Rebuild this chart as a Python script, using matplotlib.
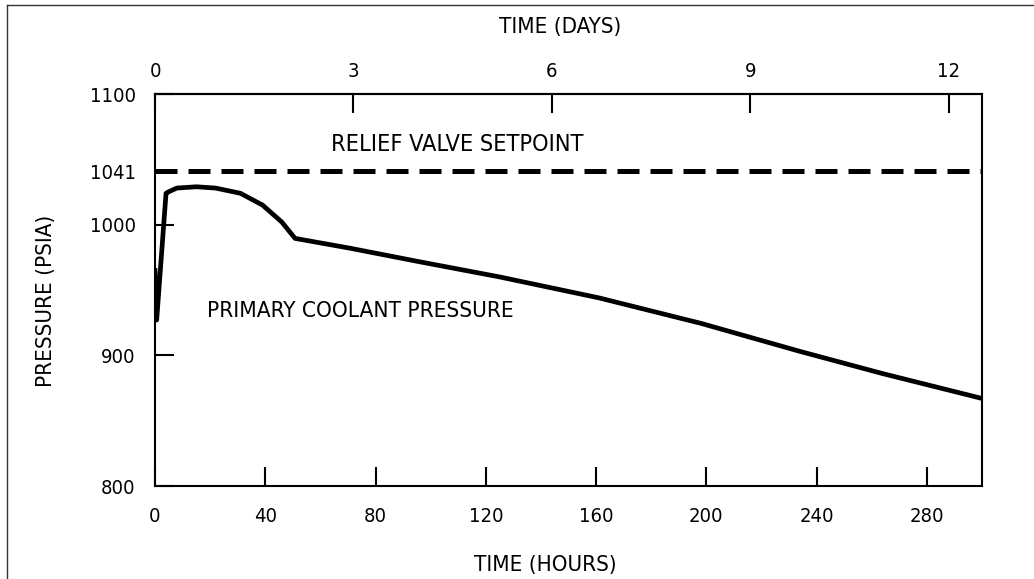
import matplotlib
matplotlib.use("Agg")
import matplotlib.pyplot as plt
from matplotlib.lines import Line2D

plt.rcParams['font.family'] = ['DejaVu Sans']
plt.rcParams['font.stretch'] = 'condensed'

# data
hours = [0, 0.6, 4, 4.8, 7.9, 15, 22, 31, 39, 46, 50.8, 70.7, 95, 125, 161, 198, 234, 264, 300]
pressure = [965, 927, 1024, 1025, 1028, 1029, 1028, 1024, 1015, 1002, 989.5, 982, 972, 960, 944, 924.5, 903, 886, 867]
relief_setpoint = 1041

hour_ticks = [0, 40, 80, 120, 160, 200, 240, 280]
day_ticks = [0, 3, 6, 9, 12]
psia_ticks = [800, 900, 1000, 1041, 1100]

fig = plt.figure(figsize=(10.34, 5.79), dpi=100)
ax = fig.add_axes([155/1034, 93/579, 827/1034, 392/579])

ax.plot(hours, pressure, color='black', lw=3.4, solid_joinstyle='round')
ax.axhline(relief_setpoint, color='black', lw=3.6, dashes=(4.4, 2.2), dash_capstyle='butt')

ax.set_xlim(0, 300)
ax.set_ylim(800, 1100)
ax.set_xticks(hour_ticks)
ax.set_yticks(psia_ticks)
ax.tick_params(axis='both', direction='in', length=13.5, width=1.5, labelsize=14.5)
ax.tick_params(axis='x', pad=15)
ax.tick_params(axis='y', pad=14)
for s in ax.spines.values():
    s.set_linewidth(1.5)

top = ax.secondary_xaxis('top', functions=(lambda h: h / 24.0, lambda d: d * 24.0))
top.set_xticks(day_ticks)
top.tick_params(direction='in', length=13.5, width=1.5, labelsize=14.5, pad=9)
top.spines['top'].set_linewidth(1.5)

# labels on the plot, placed in data units
ax.text(64, 1061, 'RELIEF VALVE SETPOINT', fontsize=16.8, ha='left', va='center')
ax.text(19, 934, 'PRIMARY COOLANT PRESSURE', fontsize=16.2, ha='left', va='center')

fig.text(560/1034, 1 - 27/579, 'TIME (DAYS)', fontsize=16, ha='center', va='center')
fig.text(545/1034, 1 - 565/579, 'TIME (HOURS)', fontsize=16, ha='center', va='center')
fig.text(46/1034, 1 - 301/579, 'PRESSURE (PSIA)', fontsize=16, ha='center', va='center', rotation=90)

# scan frame (top and left edges only)
fig.add_artist(Line2D([7/1034, 1], [1 - 5/579, 1 - 5/579], color='#333333', lw=1))
fig.add_artist(Line2D([7/1034, 7/1034], [0, 1 - 5/579], color='#333333', lw=1))

fig.savefig('out.png', dpi=100)
